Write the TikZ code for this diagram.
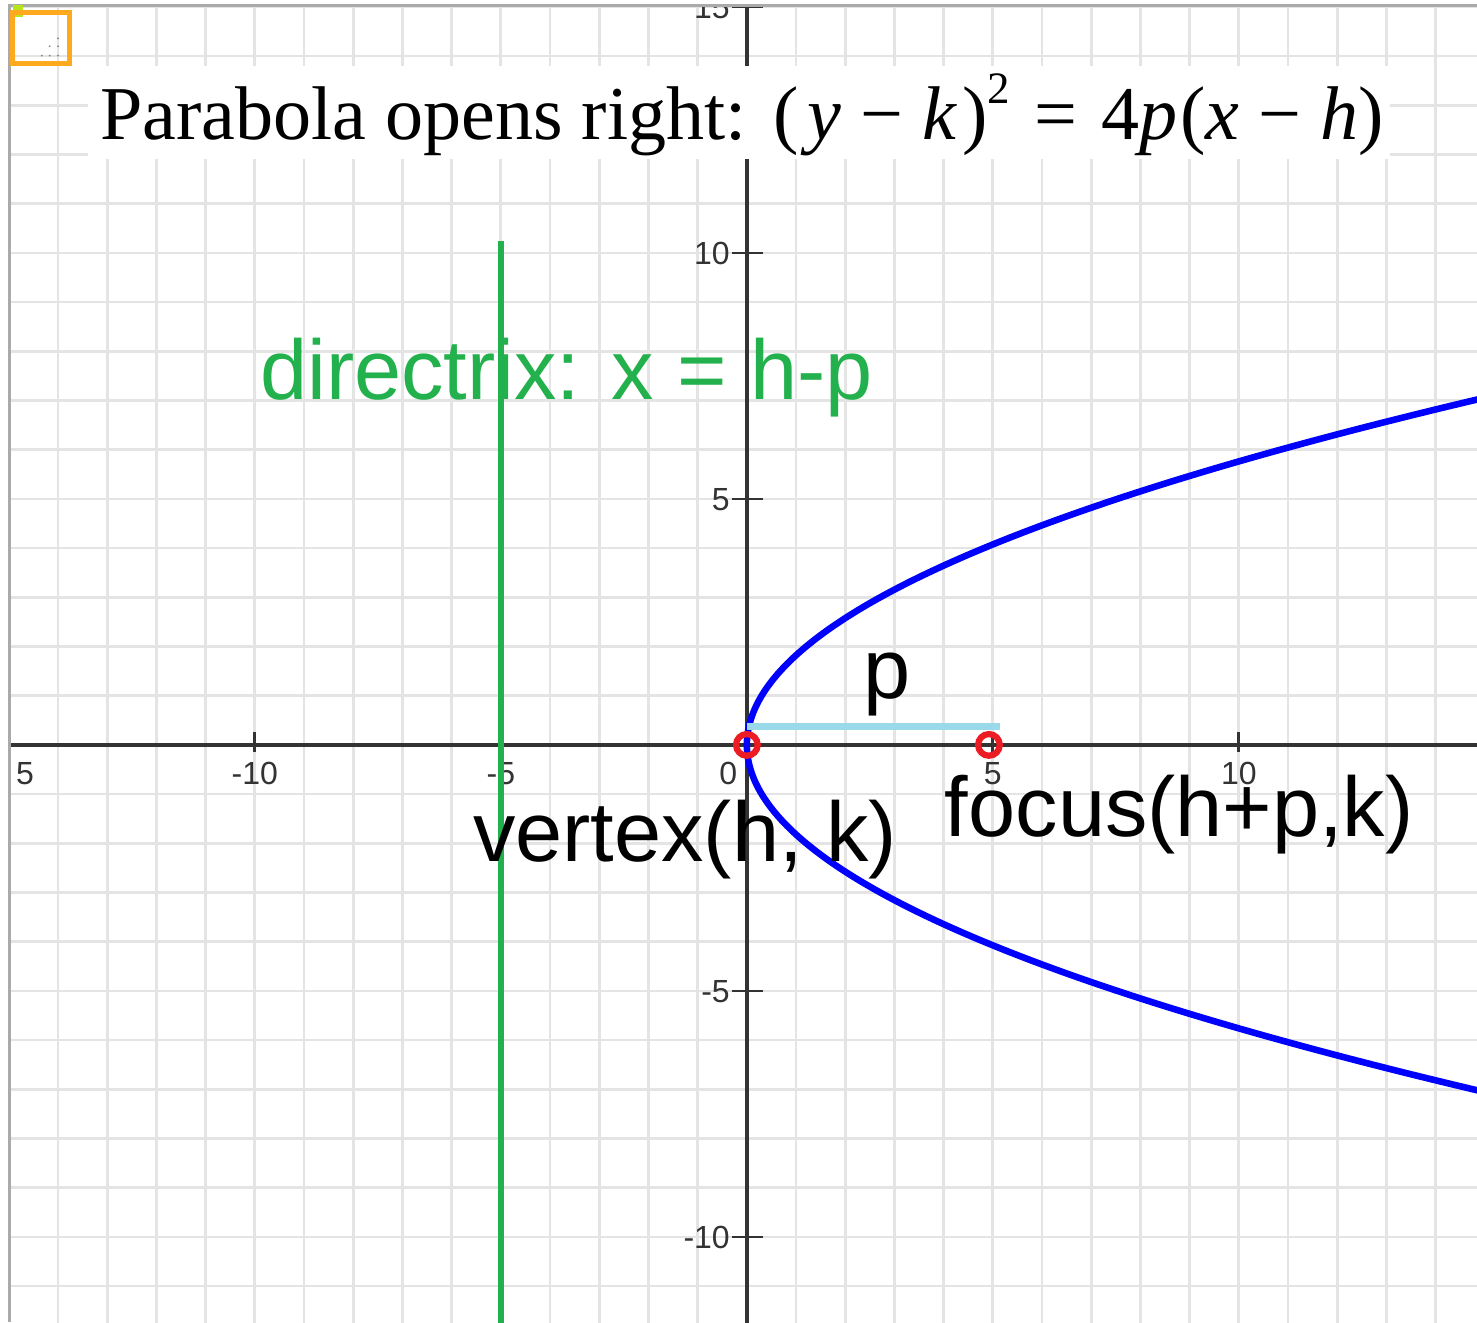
\documentclass[tikz,border=0pt]{standalone}
\usepackage{fontspec}
\setmainfont{Liberation Serif}
\newfontfamily\labelfont{Liberation Sans}
\usepackage{graphicx}
\usepackage{tikz}
\usetikzlibrary{positioning,calc}
\definecolor{gridgray}{RGB}{228,228,228}
\definecolor{framegray}{RGB}{170,170,170}
\definecolor{axisgray}{RGB}{51,51,51}
\definecolor{dirgreen}{RGB}{34,177,76}
\definecolor{parblue}{RGB}{0,0,255}
\definecolor{segblue}{RGB}{153,217,234}
\definecolor{ptred}{RGB}{237,28,36}
\definecolor{boxorange}{RGB}{255,170,30}
\definecolor{gripgreen}{RGB}{181,230,29}
\newcommand{\opgap}{\hspace{0.25em}}

\begin{document}
\begin{tikzpicture}[x=1cm, y=1cm,
  ticklab/.style={font=\labelfont\fontsize{18.5}{18.5}\selectfont, text=axisgray, inner sep=0pt},
  bigtext/.style={font=\labelfont\fontsize{49}{49}\selectfont, inner sep=0pt},
  ring/.style={draw=ptred, line width=3.6pt, circle, minimum size=0.44cm, inner sep=0pt}]
\useasboundingbox (-15.18,-11.73) rectangle (14.84,15.14);
\fill[white] (-15.18,-11.73) rectangle (14.84,15.14);

% grid, axes and tick labels
\begin{scope}
\clip (-14.98,-11.73) rectangle (14.84,15.03);
\draw[gridgray, line width=1.6pt] (-16,-12) grid (15,16);
\draw[axisgray, line width=2pt] (-15.2,0) -- (14.9,0);
\draw[axisgray, line width=2pt] (0,-11.8) -- (0,15.1);
\foreach \t in {-15,-10,-5,5,10} {
  \draw[axisgray, line width=1.6pt] (\t,-0.14) -- (\t,0.27);
}
\foreach \t in {-10,-5,5,10} {
  \node[ticklab, anchor=base] at (\t,-0.8) {\t};
}
\node[ticklab, anchor=base] (edge) at (-14.67,-0.8) {5};
\foreach \t in {-10,-5,5,10,15} {
  \draw[axisgray, line width=1.6pt] (-0.3,\t) -- (0.33,\t);
  \node[ticklab, anchor=base east] at (-0.34,\t-0.235) {\t};
}
\node[ticklab, anchor=base] (zero) at (-0.38,-0.8) {0};

% parabola
\draw[parblue, line width=3.8pt, domain=-7.5:7.5, samples=120, smooth, variable=\y]
  plot ({\y*\y/3.32},\y);
\end{scope}
\draw[framegray, line width=1.6pt] (-14.98,-11.73) -- (-14.98,15.03) -- (14.84,15.03);
\fill[gripgreen] (-14.92,14.8) rectangle (-14.72,15.03);
\draw[boxorange, line width=2.9pt] (-14.93,13.84) rectangle (-13.77,14.88);
\foreach \gx/\gy in {-14.0/14.36, -14.17/14.2, -14.0/14.2, -14.33/14.01, -14.17/14.01, -14.0/14.01}
  \fill[gray] (\gx,\gy) circle (0.02);

% title
\fill[white] (-13.39,11.91) rectangle (13.07,13.79);
\node[anchor=base west, inner sep=0pt, font=\fontsize{44}{44}\selectfont] (title) at (-13.15,12.30)
  {Parabola opens right:\hspace{0.35em}(\hspace{0.12em}\textit{y}\opgap−\opgap\textit{k}\hspace{0.06em})\raisebox{0.48em}{\fontsize{26}{26}\selectfont 2}\hspace{0.32em}=\hspace{0.32em}4\textit{p}\hspace{0.04em}(\textit{x}\opgap−\opgap\textit{h})};

% directrix
\coordinate (dtop) at (-5,10.24);
\coordinate (dbot) at (-5,-11.8);
\draw[dirgreen, line width=3.4pt] (dtop) -- (dbot);
\node[bigtext, text=dirgreen, anchor=base west] (dirlab) at (-9.9,7.03) {directrix: x = h-p};

% distance p, vertex and focus
\coordinate (vtx) at (0,0);
\coordinate (foc) at (4.92,0);
\coordinate (pa) at (0,0.37);
\coordinate (pb) at (5.14,0.37);
\draw[segblue, line width=4pt] (pa) -- (pb);
\node[bigtext, anchor=base] (plab) at (2.85,0.94) {p};
\node[ring] (vring) at (vtx) {};
\node[ring] (fring) at (foc) {};
\fill[parblue] (vtx) circle (0.07);
\node[bigtext, anchor=base west] (vtxlab) at (-5.57,-2.38) {vertex(h, k)};
\node[bigtext, anchor=base west] (foclab) at (4.02,-1.87) {focus(h+p,k)};
\end{tikzpicture}
\end{document}
